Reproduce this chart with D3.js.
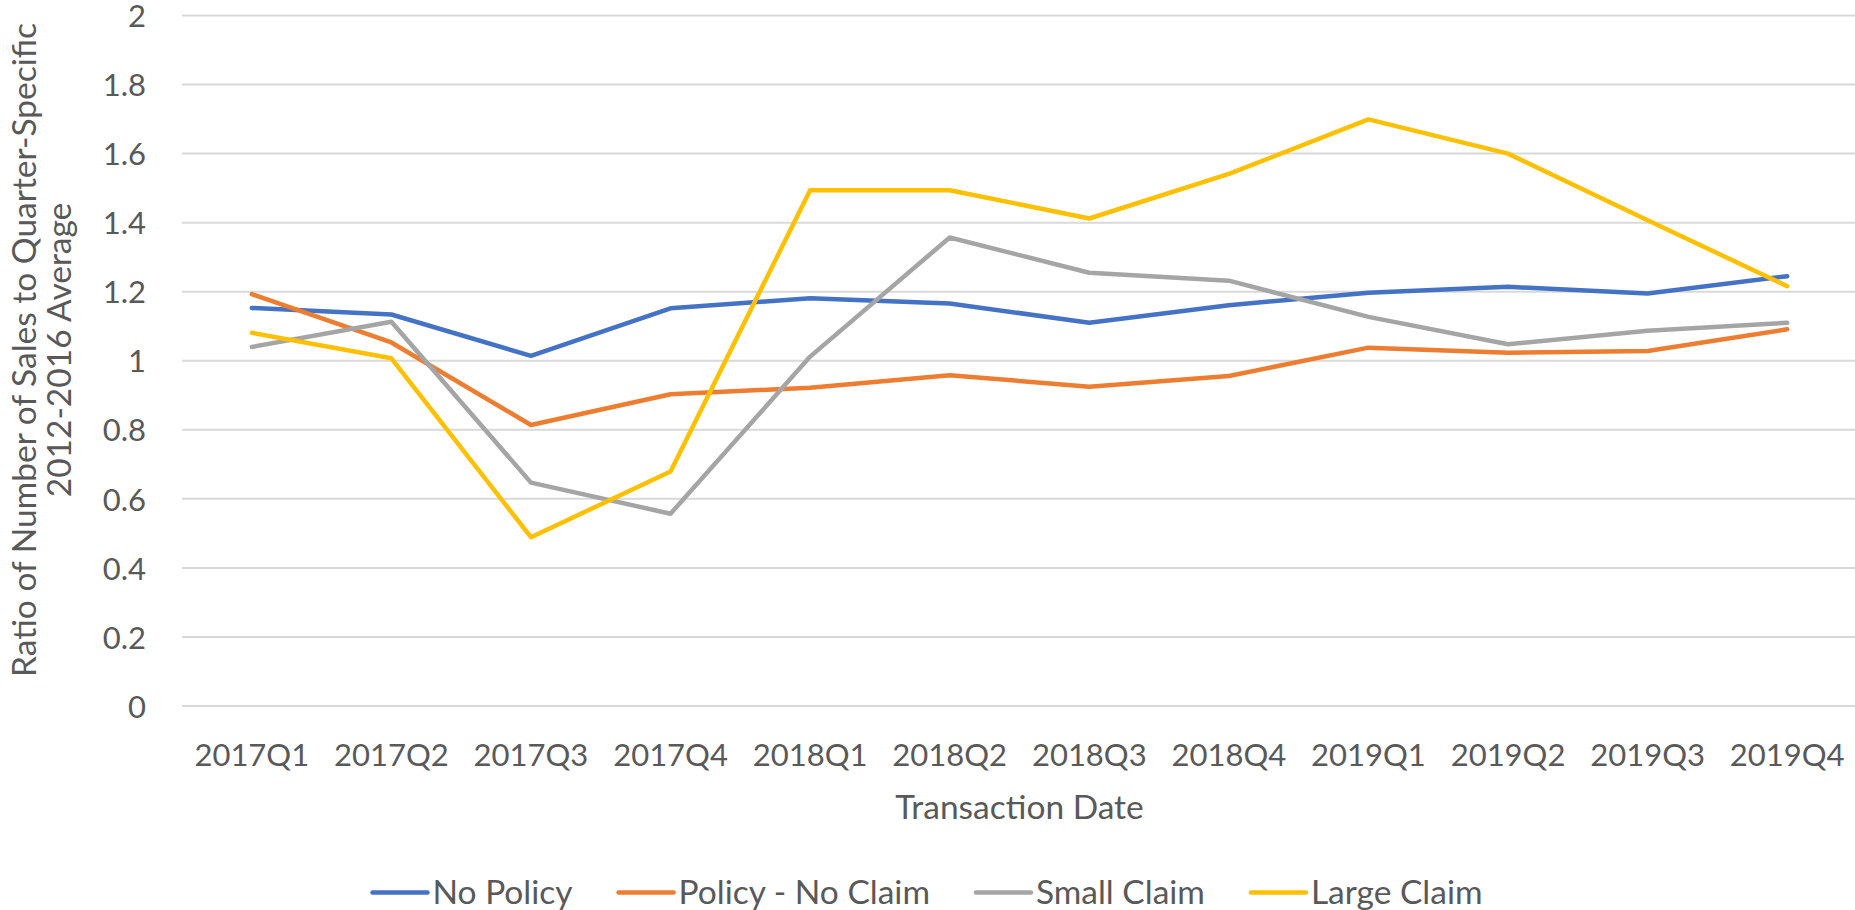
<!DOCTYPE html>
<html>
<head>
<meta charset="utf-8">
<style>
  html, body { margin: 0; padding: 0; background: #fff; }
  svg text { font-family: Lato, "Open Sans", sans-serif; fill: #595959; }
  .grid line { stroke: #d9d9d9; stroke-width: 2; }
</style>
</head>
<body>
<div id="chart"></div>
<script src="https://d3js.org/d3.v7.min.js"></script>
<script>
  // Data
  const quarters = ['2017Q1', '2017Q2', '2017Q3', '2017Q4', '2018Q1', '2018Q2',
                    '2018Q3', '2018Q4', '2019Q1', '2019Q2', '2019Q3', '2019Q4'];
  const noPolicy      = [1.153, 1.134, 1.014, 1.152, 1.181, 1.166, 1.110, 1.161, 1.197, 1.214, 1.195, 1.245];
  const policyNoClaim = [1.193, 1.053, 0.814, 0.903, 0.922, 0.958, 0.925, 0.956, 1.038, 1.023, 1.028, 1.091];
  const smallClaim    = [1.040, 1.113, 0.647, 0.557, 1.012, 1.357, 1.255, 1.232, 1.127, 1.048, 1.087, 1.110];
  const largeClaim    = [1.081, 1.007, 0.489, 0.679, 1.494, 1.494, 1.412, 1.541, 1.699, 1.600, 1.407, 1.216];
  const seriesNames = ['No Policy', 'Policy - No Claim', 'Small Claim', 'Large Claim'];
  const yTicks = [0, 0.2, 0.4, 0.6, 0.8, 1, 1.2, 1.4, 1.6, 1.8, 2];

  const series = [
    { name: seriesNames[0], values: noPolicy, color: '#4472c4' },
    { name: seriesNames[1], values: policyNoClaim, color: '#ed7d31' },
    { name: seriesNames[2], values: smallClaim, color: '#a5a5a5' },
    { name: seriesNames[3], values: largeClaim, color: '#ffc000' }
  ];

  const width = 1855;
  const height = 910;
  const margin = { top: 15.5, right: -2, bottom: 204, left: 182 };
  const tickSize = 31;   // digits in Lato match the reference widths
  const textSize = 33.5; // lowercase runs a bit narrow in Lato, so bump titles/legend

  const svg = d3.select('#chart')
    .append('svg')
    .attr('width', width)
    .attr('height', height);

  const xScale = d3.scaleBand()
    .domain(quarters)
    .range([margin.left, width - margin.right]);

  const yScale = d3.scaleLinear()
    .domain([0, 2])
    .range([height - margin.bottom, margin.top]);

  // horizontal gridlines
  svg.append('g')
    .attr('class', 'grid')
    .selectAll('line')
    .data(yTicks)
    .join('line')
    .attr('x1', margin.left)
    .attr('x2', width)
    .attr('y1', (d) => yScale(d))
    .attr('y2', (d) => yScale(d));

  // y axis labels
  const yAxis = d3.axisLeft(yScale)
    .tickValues(yTicks)
    .tickSize(0)
    .tickPadding(0)
    .tickFormat((d) => d3.format('~g')(d));
  const yG = svg.append('g')
    .attr('transform', `translate(146, 0)`)
    .call(yAxis);
  yG.select('.domain').remove();
  yG.selectAll('text')
    .attr('font-size', tickSize)
    .attr('font-family', null)
    .attr('dy', '0.36em');

  // x axis labels
  const xAxis = d3.axisBottom(xScale).tickSize(0).tickPadding(0);
  const xG = svg.append('g')
    .attr('transform', `translate(0, 766)`)
    .call(xAxis);
  xG.select('.domain').remove();
  xG.selectAll('text')
    .attr('font-size', tickSize)
    .attr('font-family', null)
    .attr('dy', 0);

  // lines
  const line = d3.line()
    .x((d, i) => xScale(quarters[i]) + xScale.bandwidth() / 2)
    .y((d) => yScale(d));

  svg.append('g')
    .selectAll('path')
    .data(series)
    .join('path')
    .attr('fill', 'none')
    .attr('stroke', (d) => d.color)
    .attr('stroke-width', 4.5)
    .attr('stroke-linejoin', 'round')
    .attr('stroke-linecap', 'round')
    .attr('d', (d) => line(d.values));

  // axis titles
  svg.append('text')
    .attr('x', (margin.left + width - margin.right) / 2)
    .attr('y', 819)
    .attr('text-anchor', 'middle')
    .attr('font-size', textSize)
    .text('Transaction Date');

  const yTitle = svg.append('text')
    .attr('transform', 'translate(0, 350) rotate(-90)')
    .attr('text-anchor', 'middle')
    .attr('font-size', textSize);
  yTitle.append('tspan').attr('x', 0).attr('y', 36).text('Ratio of Number of Sales to Quarter-Specific');
  yTitle.append('tspan').attr('x', 0).attr('y', 71).text('2012-2016 Average');

  // legend, centred on the chart
  const legend = svg.append('g');
  const items = legend.selectAll('g')
    .data(series)
    .join('g');
  items.append('line')
    .attr('x1', 0).attr('x2', 55)
    .attr('y1', 0).attr('y2', 0)
    .attr('stroke', (d) => d.color)
    .attr('stroke-width', 4.5)
    .attr('stroke-linecap', 'round');
  items.append('text')
    .attr('x', 60)
    .attr('y', 11)
    .attr('font-size', textSize)
    .text((d) => d.name);

  let offset = 0;
  items.each(function () {
    const w = 60 + this.querySelector('text').getComputedTextLength();
    d3.select(this).attr('transform', `translate(${offset}, 0)`);
    offset += w + 46;
  });
  const total = offset - 46;
  legend.attr('transform', `translate(${width / 2 - total / 2}, 892.5)`);
</script>
</body>
</html>
